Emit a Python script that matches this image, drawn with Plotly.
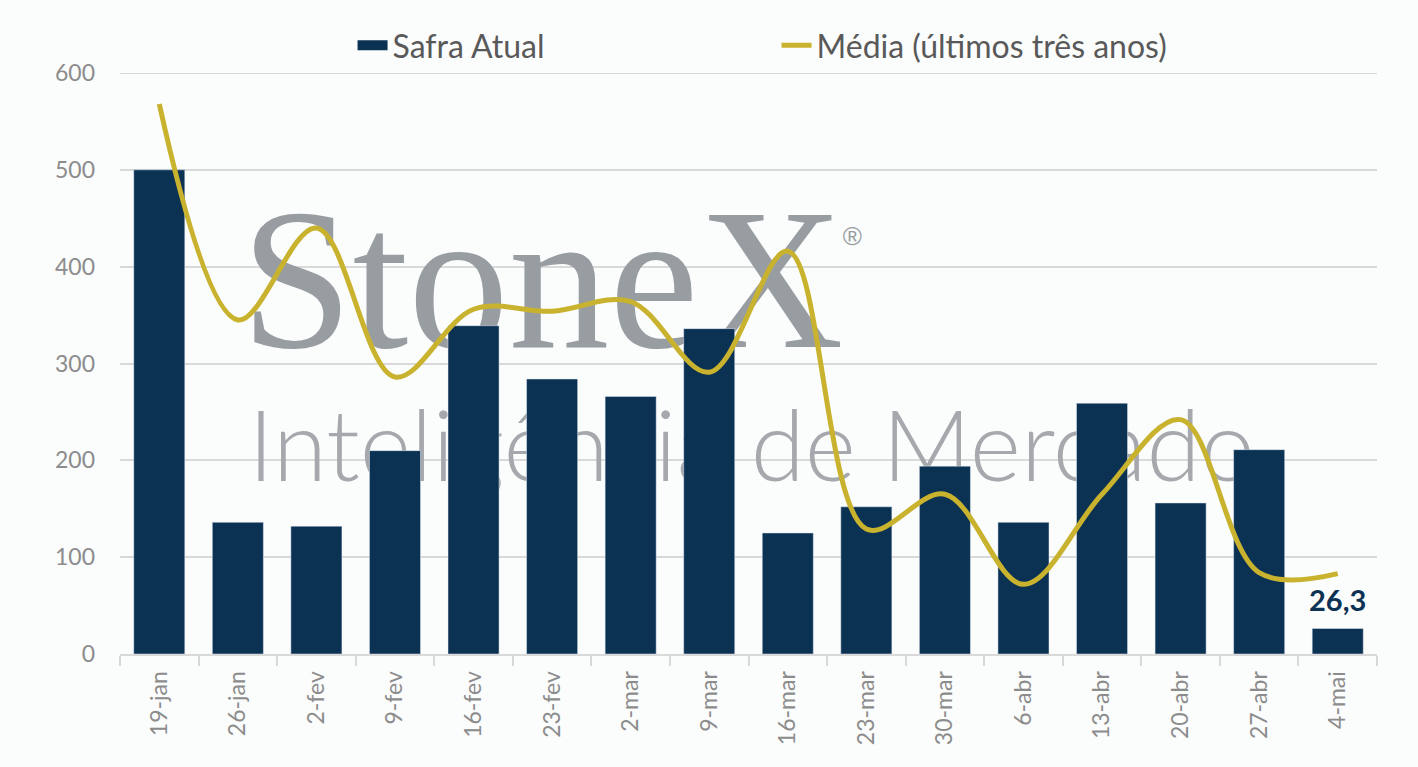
import plotly.graph_objects as go

# weekly data
semanas = ["19-jan", "26-jan", "2-fev", "9-fev", "16-fev", "23-fev", "2-mar", "9-mar",
           "16-mar", "23-mar", "30-mar", "6-abr", "13-abr", "20-abr", "27-abr", "4-mai"]
safra_atual = [500, 136, 132, 210, 339, 284, 266, 336, 125, 152, 194, 136, 259, 156, 211, 26.3]
media_3anos = [568, 345, 440, 286, 356, 354, 364, 291, 416, 129, 165, 72, 165, 242, 84, 83]

y_ticks = [0, 100, 200, 300, 400, 500, 600]

BAR_COLOR = "#0b3153"
LINE_COLOR = "#c8b22e"
GRID = "#d9d9d9"
BG = "#fbfcfc"
FONT = "Lato"

fig = go.Figure()

# watermark sits on the base axes so the bars (on overlay axes) cover it
fig.add_trace(go.Scatter(
    x=[0.096], y=[0.615], mode="text", text=["StoneX"], textposition="middle right",
    textfont=dict(family="Liberation Serif", size=201, color="#989da2"),
    showlegend=False, hoverinfo="skip", xaxis="x", yaxis="y"))
fig.add_trace(go.Scatter(
    x=[0.575], y=[0.715], mode="text", text=["®"], textposition="middle right",
    textfont=dict(family="Liberation Sans", size=26, color="#989da2"),
    showlegend=False, hoverinfo="skip", xaxis="x", yaxis="y"))
fig.add_trace(go.Scatter(
    x=[0.102], y=[0.34], mode="text", text=["Inteligência de Mercado"], textposition="middle right",
    textfont=dict(family=FONT, size=98, color="#a5a9ad", weight=300),
    showlegend=False, hoverinfo="skip", xaxis="x", yaxis="y"))

fig.add_trace(go.Bar(
    x=semanas, y=safra_atual, name="Safra Atual", marker_color=BAR_COLOR,
    showlegend=False, xaxis="x2", yaxis="y2"))
# legend key for the bars (wide block like the original)
fig.add_trace(go.Scatter(
    x=[None], y=[None], mode="lines", name="Safra Atual",
    line=dict(color=BAR_COLOR, width=10), xaxis="x2", yaxis="y2"))
fig.add_trace(go.Scatter(
    x=semanas, y=media_3anos, name="Média (últimos três anos)", mode="lines",
    line=dict(color=LINE_COLOR, width=5, shape="spline", smoothing=1.0),
    xaxis="x2", yaxis="y2"))

# value label on the latest week
fig.add_annotation(
    x=semanas[-1], y=safra_atual[-1], xref="x2", yref="y2",
    text=f"{safra_atual[-1]:.1f}".replace(".", ","), showarrow=False,
    yanchor="bottom", yshift=10,
    font=dict(family=FONT, size=29, color=BAR_COLOR, weight="bold"))

# plotly drops the gridline sitting on the top edge, so draw it back
fig.add_shape(type="line", xref="paper", yref="y2", x0=0, x1=1,
              y0=y_ticks[-1], y1=y_ticks[-1], line=dict(color=GRID, width=2), layer="above")

fig.update_layout(
    width=1418, height=767,
    paper_bgcolor=BG, plot_bgcolor=BG,
    margin=dict(l=120, r=41, t=73, b=113),
    font=dict(family=FONT, color="#595959"),
    bargap=0.35,
    showlegend=True,
    legend=dict(orientation="h", x=0.185, xanchor="left", y=1.0, yanchor="bottom",
                entrywidth=379, entrywidthmode="pixels", tracegroupgap=0,
                font=dict(size=32, color="#595959"), bgcolor="rgba(0,0,0,0)"),
    xaxis=dict(range=[0, 1], visible=False, fixedrange=True),
    yaxis=dict(range=[0, 1], visible=False, fixedrange=True),
    xaxis2=dict(overlaying="x", type="category", showline=True, linecolor=GRID, linewidth=2,
                ticks="outside", tickson="boundaries", ticklen=10, tickcolor=GRID, tickwidth=2,
                tickangle=-90, tickfont=dict(size=23, color="#8c8c8c"), showgrid=False,
                ticklabelstandoff=6),
    yaxis2=dict(overlaying="y", range=[0, 600], tickvals=y_ticks, showgrid=True, gridcolor=GRID,
                gridwidth=2, zeroline=False, tickfont=dict(size=23, color="#8c8c8c"),
                ticklabelstandoff=24),
)

fig.write_html("out.html", config={"displayModeBar": False},
               post_script="document.body.style.margin='0';")
